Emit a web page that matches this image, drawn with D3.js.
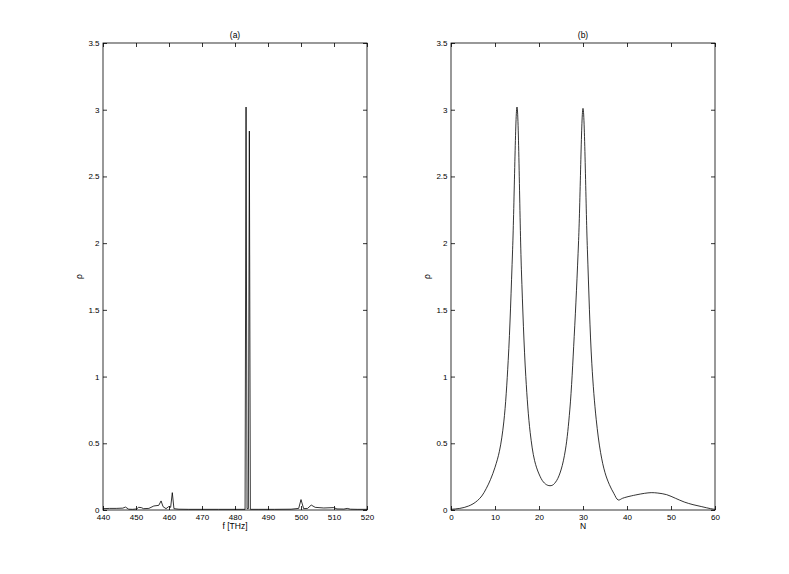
<!DOCTYPE html>
<html>
<head>
<meta charset="utf-8">
<script src="https://cdn.jsdelivr.net/npm/d3@7"></script>
<style>
  body { margin: 0; background: #fff; }
  svg { display: block; }
  text { font-family: "Liberation Sans", Arial, Helvetica, sans-serif; fill: #000; }
  .tick line { stroke: #000; stroke-width: 0.8; }
  .frame { fill: none; stroke: #000; stroke-width: 0.8; }
  .trace { fill: none; stroke: #000; stroke-width: 0.8; }
</style>
</head>
<body>
<svg id="chart" width="789" height="574"></svg>
<script>
// panel (a): spectrum rho(f), f in THz
var freqA = [440, 442, 444, 446, 446.8, 447.8, 449, 450.2, 450.8, 451.6, 452.3, 453.9, 455.4, 456.9, 457.6, 458.2, 459.1, 459.9, 460.5, 461.0, 461.5, 463, 466, 470, 475, 480, 483.05, 483.35, 483.65, 484.05, 484.35, 484.65, 487, 492, 497, 499.3, 500.0, 500.8, 502, 503.1, 504.3, 506.9, 509.9, 510.9, 513, 514, 515, 517, 520];
var rhoA  = [0.01, 0.012, 0.012, 0.014, 0.022, 0.006, 0.005, 0.008, 0.02, 0.018, 0.01, 0.012, 0.03, 0.035, 0.068, 0.025, 0.01, 0.025, 0.02, 0.13, 0.01, 0.006, 0.005, 0.005, 0.005, 0.005, 0.005, 3.02, 0.01, 0.01, 2.84, 0.005, 0.005, 0.005, 0.006, 0.012, 0.078, 0.01, 0.012, 0.037, 0.02, 0.015, 0.018, 0.008, 0.007, 0.012, 0.006, 0.005, 0.005];

// panel (b): rho versus N
var nB   = [0, 1, 2, 3, 4, 5, 6, 7, 8, 9, 10, 11, 12, 13, 14, 15, 16, 17, 18, 19, 20, 21, 22, 23, 24, 25, 26, 27, 28, 29, 30, 31, 32, 33, 34, 35, 36, 37, 38, 39, 40, 42, 44, 45.5, 47, 49, 51, 53, 55, 57, 59, 60];
var rhoB = [0.005, 0.008, 0.012, 0.019, 0.03, 0.046, 0.07, 0.105, 0.16, 0.23, 0.32, 0.44, 0.66, 1.12, 1.95, 3.02, 1.8, 1.0, 0.58, 0.37, 0.27, 0.21, 0.185, 0.185, 0.22, 0.3, 0.45, 0.75, 1.3, 2.02, 3.01, 1.95, 1.1, 0.68, 0.43, 0.28, 0.19, 0.125, 0.075, 0.088, 0.098, 0.113, 0.125, 0.13, 0.127, 0.115, 0.088, 0.06, 0.04, 0.025, 0.01, 0.005];

var yTicks = [0, 0.5, 1, 1.5, 2, 2.5, 3, 3.5];
var xTicksA = [440, 450, 460, 470, 480, 490, 500, 510, 520];
var xTicksB = [0, 10, 20, 30, 40, 50, 60];

var svg = d3.select("#chart");
var top_ = 43, bottom = 510;

// draw one MATLAB-style boxed panel
function panel(left, right, xDomain, xTicks, xs, ys, title, xlabel, curve) {
    var x = d3.scaleLinear().domain(xDomain).range([left, right]);
    var y = d3.scaleLinear().domain([0, 3.5]).range([bottom, top_]);
    var g = svg.append("g");

    var fmt = function(d) { return String(d); };

    g.append("g").attr("transform", "translate(0," + bottom + ")")
     .call(d3.axisBottom(x).tickValues(xTicks).tickFormat(fmt).tickSizeInner(-4).tickSizeOuter(0).tickPadding(4))
     .call(function(a) { a.select(".domain").remove(); a.selectAll("text").style("font-size", "8px").attr("fill", "#000"); });
    g.append("g").attr("transform", "translate(0," + top_ + ")")
     .call(d3.axisTop(x).tickValues(xTicks).tickFormat("").tickSizeInner(-4).tickSizeOuter(0))
     .call(function(a) { a.select(".domain").remove(); });
    g.append("g").attr("transform", "translate(" + left + ",0)")
     .call(d3.axisLeft(y).tickValues(yTicks).tickFormat(fmt).tickSizeInner(-4).tickSizeOuter(0).tickPadding(3.5))
     .call(function(a) { a.select(".domain").remove(); a.selectAll("text").style("font-size", "8px").attr("fill", "#000"); });
    g.append("g").attr("transform", "translate(" + right + ",0)")
     .call(d3.axisRight(y).tickValues(yTicks).tickFormat("").tickSizeInner(-4).tickSizeOuter(0))
     .call(function(a) { a.select(".domain").remove(); });

    g.selectAll("text").attr("font-family", null);

    g.append("rect").attr("class", "frame")
     .attr("x", left).attr("y", top_).attr("width", right - left).attr("height", bottom - top_);

    var line = d3.line().x(function(d) { return x(d[0]); }).y(function(d) { return y(d[1]); }).curve(curve);
    var pts = xs.map(function(v, i) { return [v, ys[i]]; });
    g.append("path").attr("class", "trace").attr("d", line(pts));

    g.append("text").attr("x", (left + right) / 2).attr("y", 37.5)
     .attr("text-anchor", "middle").style("font-size", "8.5px").text(title);
    g.append("text").attr("x", (left + right) / 2).attr("y", 529)
     .attr("text-anchor", "middle").style("font-size", "8.5px").text(xlabel);
    g.append("text").attr("transform", "translate(" + (left - 21) + "," + ((top_ + bottom) / 2) + ")rotate(-90)")
     .attr("text-anchor", "middle").style("font-size", "8.5px").text("\u03c1");
}

panel(103, 367, [440, 520], xTicksA, freqA, rhoA, "(a)", "f [THz]", d3.curveLinear);
panel(451, 715, [0, 60], xTicksB, nB, rhoB, "(b)", "N", d3.curveCatmullRom.alpha(0.5));
</script>
</body>
</html>
